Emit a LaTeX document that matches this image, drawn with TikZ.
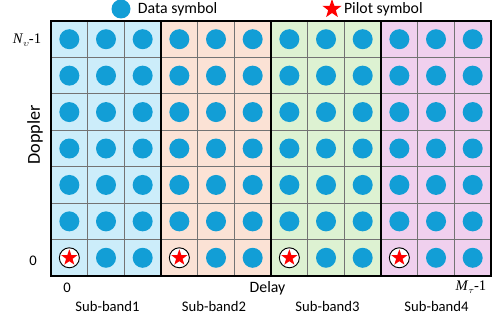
\documentclass[tikz,border=0pt]{standalone}
\usepackage{fontspec}
\setmainfont{Carlito}
\newfontfamily\serifnum{Liberation Serif}
\usetikzlibrary{positioning}
\usetikzlibrary{shapes.geometric}
\usepackage{xcolor}

\definecolor{dotblue}{HTML}{129ED6}
\definecolor{bandblue}{HTML}{CCEDFA}
\definecolor{bandpeach}{HTML}{FBE2D5}
\definecolor{bandgreen}{HTML}{DDF2D2}
\definecolor{bandpink}{HTML}{F0D0EE}

\newlength{\px}
\setlength{\px}{0.03cm}

\tikzset{
  datadot/.style={circle, fill=dotblue, inner sep=0pt, minimum size=20\px},
  pilotring/.style={circle, draw=black, fill=white, line width=0.8pt, inner sep=0pt, minimum size=20\px},
  pilotstar/.style={star, star points=5, star point ratio=2.5, fill=red, inner sep=0pt, minimum size=#1},
  lbl/.style={font=\fontsize{12.5}{14}\selectfont, inner sep=0pt},
  keylbl/.style={font=\fontsize{13.5}{15}\selectfont, inner sep=0pt},
  axlbl/.style={font=\fontsize{12.5}{14}\selectfont\serifnum, inner sep=0pt}
}

\begin{document}
\begin{tikzpicture}[x=0.03cm, y=0.03cm]

\useasboundingbox (0,0) rectangle (497,320);

% sub-band backgrounds and grids
\foreach \b/\col in {0/bandblue, 1/bandpeach, 2/bandgreen, 3/bandpink}
{
\begin{scope}[xshift=\b*110*0.03cm]
{
\fill[\col] (51,44) rectangle (161,299);
\foreach \i in {1,2}
  \draw[black!55, line width=0.8pt] (51+\i*36.67,44) -- (51+\i*36.67,299);
\foreach \j in {1,...,6}
  \draw[black!55, line width=0.8pt] (51,44+\j*36.43) -- (161,44+\j*36.43);
}
\end{scope}
}

% symbols
\foreach \c in {0,...,11}
  \foreach \r in {0,...,6}
  {
    \pgfmathtruncatemacro{\isp}{(\r==0)*(mod(\c,3)==0)}
    \ifnum\isp=1
      \node[pilotring] at (69.33+\c*36.67, 62.2+\r*36.43) {};
      \node[pilotstar=17\px] at (69.33+\c*36.67, 62.2+\r*36.43) {};
    \else
      \node[datadot] at (69.33+\c*36.67, 62.2+\r*36.43) {};
    \fi
  }

% band borders
\foreach \b in {0,...,3}
  \draw[black, line width=1pt] (51+\b*110,44) rectangle (161+\b*110,299);

% legend
\node[datadot, minimum size=19\px] (dotkey) at (121,311) {};
\node[keylbl, right=7\px of dotkey] (datatext) {Data symbol};
\node[pilotstar=20\px] (starkey) at (332,311) {};
\node[keylbl, right=6\px of starkey] (pilottext) {Pilot symbol};

% labellings
\node[axlbl] (nmax) at (27,280) {\textit{N}\raisebox{-0.4ex}{\fontsize{8}{9}\selectfont$\upsilon$}-1};
\node[lbl] (nzero) at (33,59) {0};
\node[lbl, font=\fontsize{15.5}{17}\selectfont, rotate=90] (doppler) at (35,185) {Doppler};
\node[lbl] (mzero) at (67,32) {0};
\node[keylbl] (delay) at (267.5,32) {Delay};
\node[axlbl] (mmax) at (471,33) {\textit{M}\raisebox{-0.4ex}{\fontsize{8}{9}\selectfont$\tau$}-1};

\node[lbl] (band1) at (107.5,14) {Sub-band1};
\node[lbl] (band2) at (214,14) {Sub-band2};
\node[lbl] (band3) at (327.5,14) {Sub-band3};
\node[lbl] (band4) at (436.5,14) {Sub-band4};

\end{tikzpicture}
\end{document}
